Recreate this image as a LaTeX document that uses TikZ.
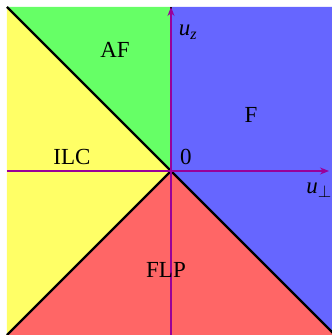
\documentclass[tikz,border=0pt]{standalone}
\usepackage{fontspec}
\setmainfont{Liberation Serif}
\usetikzlibrary{arrows.meta}

\definecolor{afgreen}{HTML}{66FF66}
\definecolor{fblue}{HTML}{6666FF}
\definecolor{ilcyellow}{HTML}{FFFF66}
\definecolor{flpred}{HTML}{FF6666}
\definecolor{axispurple}{HTML}{990099}

\begin{document}
\begin{tikzpicture}[x=1pt, y=1pt,
    phase/.style={font=\fontsize{23}{26}\selectfont},
    border/.style={line width=2.4pt, black},
    axis/.style={line width=1.2pt, axispurple, -{Stealth[length=9pt, width=7pt]}}]
    \useasboundingbox (-171,-164) rectangle (161,171);

    % Corners and axis ends
    \coordinate (o) at (0,0);
    \coordinate (tl) at (-164,164);
    \coordinate (tm) at (0,164);
    \coordinate (tr) at (164,164);
    \coordinate (br) at (164,-164);
    \coordinate (bl) at (-164,-164);
    \coordinate (xl) at (-164,0);
    \coordinate (xr) at (158,0);
    \coordinate (zb) at (0,-164);
    \coordinate (zt) at (0,164);

    % Draw phases
    \fill[ilcyellow] (tl) -- (o) -- (bl) -- cycle;
    \fill[afgreen] (tl) -- (tm) -- (o) -- cycle;
    \fill[fblue] (tm) -- (tr) -- (br) -- (o) -- cycle;
    \fill[flpred] (o) -- (br) -- (bl) -- cycle;

    % Draw phase borders
    \draw[border] (tl) -- (o) -- (bl);
    \draw[border] (o) -- (br);
    \draw[border] (o) -- (tm);

    % Draw axes
    \draw[axis] (xl) -- (xr);
    \draw[axis] (zb) -- (zt);

    % Labels
    \node[phase] (af) at (-56,121) {AF};
    \node[phase] (f) at (80,56) {F};
    \node[phase] (ilc) at (-99,14) {ILC};
    \node[phase] (zero) at (15,14) {0};
    \node[phase] (flp) at (-5,-99) {FLP};
    \node[phase] (uz) at (17,139) {\textit{u}\textsubscript{\textit{z}}};
    \node[phase] (uperp) at (148,-19) {\textit{u}$_{\perp}$};
\end{tikzpicture}
\end{document}
